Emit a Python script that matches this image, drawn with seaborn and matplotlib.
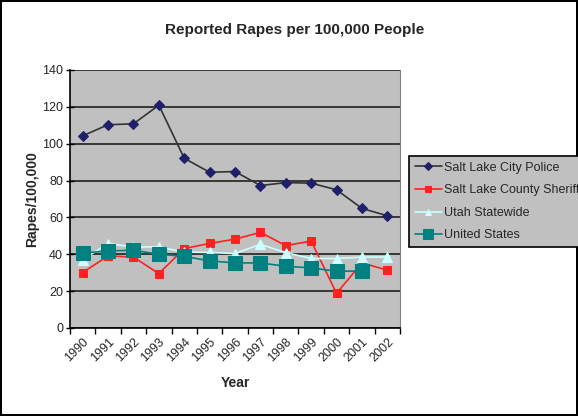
import matplotlib
matplotlib.use("Agg")
import matplotlib.pyplot as plt
import seaborn as sns
import pandas as pd
import numpy as np
from matplotlib.ticker import FixedLocator

years = ["1990", "1991", "1992", "1993", "1994", "1995", "1996",
         "1997", "1998", "1999", "2000", "2001", "2002"]
slc_police = [104.3, 110.3, 110.8, 120.9, 92.1, 84.5, 84.9, 77.3, 78.9, 78.6, 75.0, 64.9, 60.9]
slc_sheriff = [30.1, 39.1, 38.5, 29.5, 43.1, 45.9, 48.2, 51.9, 44.7, 47.2, 18.8, 35.3, 31.4]
utah = [37.1, 45.8, 44.0, 44.0, 41.2, 41.0, 40.4, 45.4, 40.9, 37.7, 37.7, 38.5, 38.5]
united_states = [40.7, 41.8, 42.2, 40.0, 38.9, 36.4, 35.3, 35.3, 33.5, 32.6, 30.8, 30.9, np.nan]

series_names = ["Salt Lake City Police", "Salt Lake County Sheriff", "Utah Statewide", "United States"]

sns.set_style("white")
plt.rcParams['font.family'] = ['Liberation Sans', 'DejaVu Sans']

fig = plt.figure(figsize=(5.78, 4.16), dpi=100)
fig.patch.set_facecolor("white")
fig.patch.set_edgecolor("black")
fig.patch.set_linewidth(1.5)
ax = fig.add_axes([70/578, 88/416, 330/578, 258/416])
ax.set_facecolor("#C0C0C0")

xpos = np.arange(len(years))
styles = [
    dict(data=slc_police, color="#333333", mfc="#1F1F6B", mec="#1F1F6B", marker="D", ms=5, lms=4),
    dict(data=slc_sheriff, color="#FF2020", mfc="#FF2020", mec="#FF2020", marker="s", ms=6, lms=5),
    dict(data=utah, color="#CCFFFF", mfc="#CCFFFF", mec="#CCFFFF", marker="^", ms=7, lms=5),
    dict(data=united_states, color="#008080", mfc="#008080", mec="#008080", marker="s", ms=10, lms=7),
]

ax.yaxis.grid(True, color="#202020", linewidth=1.2)
ax.set_axisbelow(True)

for name, st in zip(series_names, styles):
    df = pd.DataFrame({"x": xpos, "y": st["data"]}).dropna()
    sns.lineplot(data=df, x="x", y="y", ax=ax, color=st["color"], linewidth=1.2,
                 marker=st["marker"], markersize=st["ms"], markerfacecolor=st["mfc"],
                 markeredgecolor=st["mec"], label=name, legend=False)

ax.set_xlim(-0.5, len(years) - 0.5)
ax.set_ylim(0, 140)
ax.set_yticks(np.arange(0, 141, 20))
ax.set_xticks(xpos)
ax.set_xticklabels(years, rotation=45, ha="right", rotation_mode="anchor", fontsize=9)
ax.xaxis.set_minor_locator(FixedLocator(np.arange(-0.5, len(years), 1.0)))
ax.tick_params(axis="x", which="major", length=0, pad=6)
ax.tick_params(axis="x", which="minor", length=4, width=1, color="black", direction="out", bottom=True)
ax.tick_params(axis="y", which="major", length=6, width=1, color="black", direction="inout", left=True,
               labelsize=9, pad=2)

ax.spines["top"].set_visible(False)
ax.spines["right"].set_color("#808080")
ax.spines["left"].set_color("black")
ax.spines["bottom"].set_color("black")
ax.spines["left"].set_linewidth(1.2)
ax.spines["bottom"].set_linewidth(1.2)

ax.set_xlabel("Year", fontsize=10, fontweight="bold", labelpad=8)
ax.set_ylabel("Rapes/100,000", fontsize=10, fontweight="bold", labelpad=2)
fig.suptitle("Reported Rapes per 100,000 People", x=294.5/578, y=0.945, fontsize=11, fontweight="bold")

handles, labels = ax.get_legend_handles_labels()
leg = fig.legend(handles, labels, loc="upper left", bbox_to_anchor=(409/578, (416-156)/416),
                 fontsize=9, frameon=True, fancybox=False, facecolor="#C0C0C0", edgecolor="black",
                 handlelength=2.2, handletextpad=0.15, borderpad=0.45, borderaxespad=0,
                 labelspacing=0.85)
leg.get_frame().set_linewidth(1.2)
leg.get_frame().set_alpha(1)
for h, st in zip(leg.legend_handles, styles):
    h.set_markersize(st["lms"])

fig.savefig("out.png", dpi=100, facecolor=fig.get_facecolor(), edgecolor=fig.get_edgecolor())
